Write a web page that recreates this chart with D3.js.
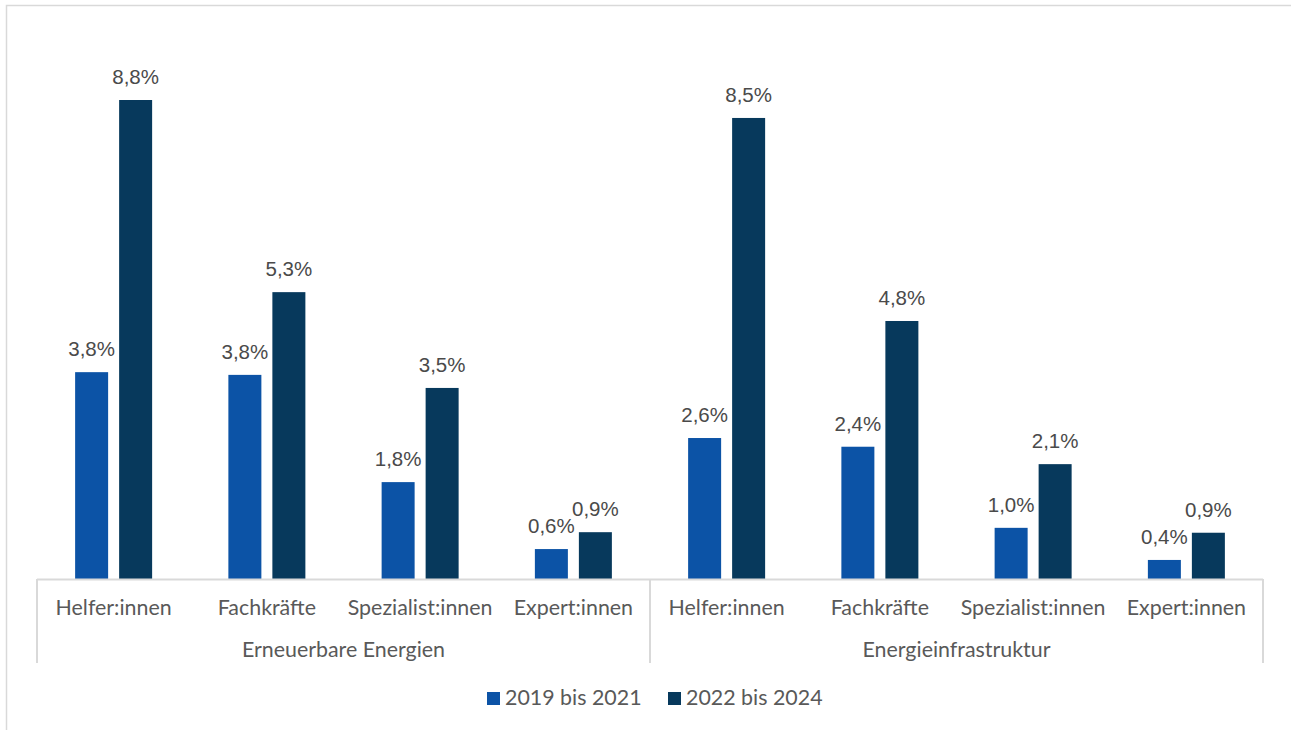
<!DOCTYPE html>
<html>
<head>
<meta charset="utf-8">
<script src="https://cdn.jsdelivr.net/npm/d3@7"></script>
<style>
  body { margin: 0; background: #fff; }
  svg { display: block; }
</style>
</head>
<body>
<script>
// data
var groups = ['Erneuerbare Energien', 'Energieinfrastruktur'];
var jobs = ['Helfer:innen', 'Fachkräfte', 'Spezialist:innen', 'Expert:innen'];
var seriesNames = ['2019 bis 2021', '2022 bis 2024'];
var values2019 = [3.80, 3.75, 1.78, 0.55, 2.59, 2.43, 0.94, 0.35];
var values2022 = [8.80, 5.27, 3.51, 0.86, 8.47, 4.74, 2.11, 0.85];
var labels2019 = ['3,8%', '3,8%', '1,8%', '0,6%', '2,6%', '2,4%', '1,0%', '0,4%'];
var labels2022 = ['8,8%', '5,3%', '3,5%', '0,9%', '8,5%', '4,8%', '2,1%', '0,9%'];

var width = 1291, height = 730;
var colors = ['#0c53a6', '#07395c'];
var textColor = '#595959';
var labelColor = '#4a4a4a';
var lineColor = '#d9d9d9';
var axisFont = '21.4px';
var barW = 33;
var barGap = 11;

var plotLeft = 37, plotRight = 1263, baseY = 579;

var svg = d3.select('body').append('svg')
  .attr('width', width)
  .attr('height', height);

// outer chart border
svg.append('rect')
  .attr('x', 6.5).attr('y', 5.5)
  .attr('width', 1400).attr('height', 900)
  .attr('fill', 'none')
  .attr('stroke', lineColor)
  .attr('stroke-width', 1.5);

var cats = [];
groups.forEach(function(g) {
  jobs.forEach(function(j) { cats.push(g + '|' + j); });
});

var x = d3.scaleBand()
  .domain(cats)
  .range([plotLeft, plotRight]);

var y = d3.scaleLinear()
  .domain([0, 8.8])
  .range([baseY, 100]);

var rows = cats.map(function(c, i) {
  return { cat: c, job: c.split('|')[1], vals: [values2019[i], values2022[i]], labs: [labels2019[i], labels2022[i]] };
});

// bars + data labels
var g = svg.append('g');
rows.forEach(function(r) {
  var cx = x(r.cat) + x.bandwidth() / 2;
  r.vals.forEach(function(v, k) {
    var bx = k === 0 ? cx - barGap / 2 - barW : cx + barGap / 2;
    g.append('rect')
      .attr('x', bx)
      .attr('y', y(v))
      .attr('width', barW)
      .attr('height', baseY - y(v))
      .attr('fill', colors[k]);
    g.append('text')
      .attr('x', bx + barW / 2)
      .attr('y', y(v) - 16)
      .attr('text-anchor', 'middle')
      .attr('font-family', 'Liberation Sans, Arial, sans-serif')
      .attr('font-size', '20.5px')
      .attr('fill', labelColor)
      .text(r.labs[k]);
  });
});

// category axis (two levels)
var ax = svg.append('g')
  .attr('transform', 'translate(0,' + baseY + ')')
  .call(d3.axisBottom(x).tickSize(0).tickFormat(function(d) { return d.split('|')[1]; }));
ax.select('.domain').attr('stroke', lineColor).attr('stroke-width', 2)
  .attr('d', 'M' + plotLeft + ',0.5H' + plotRight);
ax.selectAll('.tick text')
  .attr('y', 36)
  .attr('dy', 0)
  .attr('font-family', 'Lato, sans-serif')
  .attr('font-size', axisFont)
  .attr('fill', textColor);

var groupW = (plotRight - plotLeft) / groups.length;
[0, 1, 2].forEach(function(i) {
  svg.append('line')
    .attr('x1', plotLeft + i * groupW).attr('x2', plotLeft + i * groupW)
    .attr('y1', baseY).attr('y2', 663)
    .attr('stroke', lineColor)
    .attr('stroke-width', 2);
});
groups.forEach(function(gname, i) {
  svg.append('text')
    .attr('x', plotLeft + (i + 0.5) * groupW)
    .attr('y', 657)
    .attr('text-anchor', 'middle')
    .attr('font-family', 'Lato, sans-serif')
    .attr('font-size', axisFont)
    .attr('fill', textColor)
    .text(gname);
});

// legend
var legendX = [487, 668];
seriesNames.forEach(function(s, k) {
  svg.append('rect')
    .attr('x', legendX[k]).attr('y', 692)
    .attr('width', 13).attr('height', 13)
    .attr('fill', colors[k]);
  svg.append('text')
    .attr('x', legendX[k] + 18).attr('y', 705)
    .attr('font-family', 'Lato, sans-serif')
    .attr('font-size', axisFont)
    .attr('fill', textColor)
    .text(s);
});
</script>
</body>
</html>
